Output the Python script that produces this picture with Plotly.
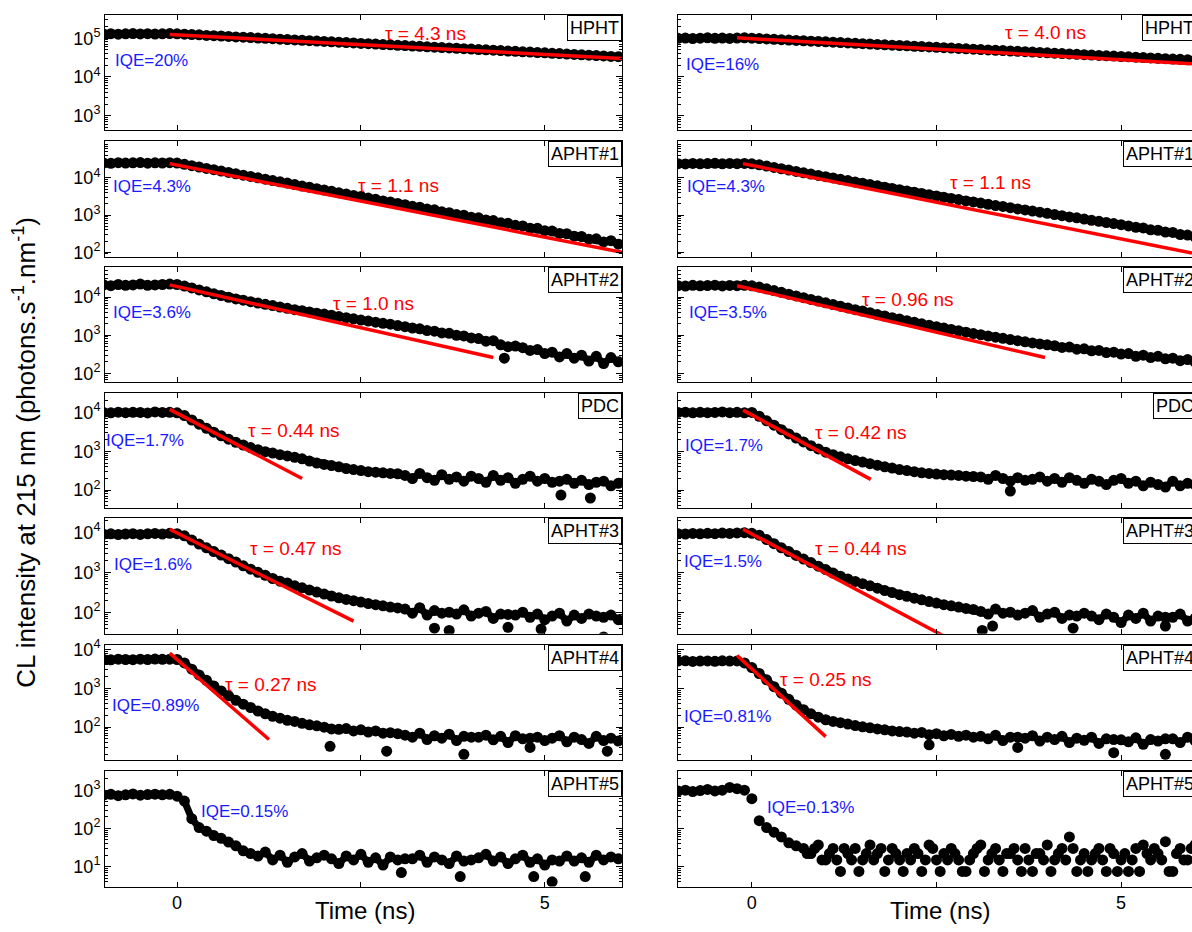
import math
import plotly.graph_objects as go

W, H = 1192, 932

# ---------------- data ----------------
TIME_NS = [-1.0, -0.9, -0.8, -0.7, -0.6, -0.5, -0.4, -0.3, -0.2, -0.1, 0.0,
           0.1, 0.2, 0.3, 0.4, 0.5, 0.6, 0.7, 0.8, 0.9, 1.0,
           1.1, 1.2, 1.3, 1.4, 1.5, 1.6, 1.7, 1.8, 1.9, 2.0,
           2.1, 2.2, 2.3, 2.4, 2.5, 2.6, 2.7, 2.8, 2.9, 3.0,
           3.1, 3.2, 3.3, 3.4, 3.5, 3.6, 3.7, 3.8, 3.9, 4.0,
           4.1, 4.2, 4.3, 4.4, 4.5, 4.6, 4.7, 4.8, 4.9, 5.0,
           5.1, 5.2, 5.3, 5.4, 5.5, 5.6, 5.7, 5.8, 5.9, 6.0]

SAMPLES = ["HPHT", "APHT#1", "APHT#2", "PDC", "APHT#3", "APHT#4", "APHT#5"]
LEFT_IQE = ["IQE=20%", "IQE=4.3%", "IQE=3.6%", "IQE=1.7%", "IQE=1.6%", "IQE=0.89%", "IQE=0.15%"]
RIGHT_IQE = ["IQE=16%", "IQE=4.3%", "IQE=3.5%", "IQE=1.7%", "IQE=1.5%", "IQE=0.81%", "IQE=0.13%"]
LEFT_TAU = ["4.3", "1.1", "1.0", "0.44", "0.47", "0.27"]
RIGHT_TAU = ["4.0", "1.1", "0.96", "0.42", "0.44", "0.25"]

L_HPHT = [128000, 131000, 127000, 130000, 132000, 129000, 131000, 128000, 130000, 132000, 130000,
          127000, 124000, 122000, 118000, 116000, 114000, 111000, 108000, 106000, 104000,
          101000, 99000, 97000, 94500, 92500, 90500, 88000, 86500, 84500, 82500,
          80500, 79000, 77000, 75500, 73500, 72000, 70500, 68500, 67500, 65500,
          64500, 62500, 61500, 60000, 58500, 57500, 56000, 55000, 53500, 52500,
          51000, 50000, 49000, 48000, 46500, 45800, 44600, 43800, 42600, 41800,
          40700, 40000, 38900, 38200, 37100, 36500, 35500, 34900, 33900, 33400]
R_HPHT = [99000, 101000, 98000, 100000, 102000, 99500, 101000, 98500, 100500, 102000, 100000,
          97800, 95800, 93600, 91700, 89700, 87800, 85900, 84000, 82300, 80500,
          78700, 77100, 75400, 73800, 72200, 70600, 69100, 67600, 66200, 64800,
          63400, 62000, 60700, 59400, 58100, 56800, 55600, 54400, 53300, 52100,
          51000, 49900, 48800, 47800, 46700, 45700, 44800, 43800, 42900, 41900,
          41000, 40200, 39300, 38400, 37600, 36800, 36000, 35200, 34500, 33700,
          33000, 32300, 31600, 30900, 30300, 29600, 29000, 28400, 27700, 27200]
L_APHT1 = [25000, 24500, 25500, 24800, 25200, 25600, 24700, 25300, 25000, 25400, 24800,
           23000, 21200, 19500, 17900, 16500, 15200, 13900, 12800, 11800, 10900,
           10000, 9200, 8400, 7800, 7200, 6600, 6000, 5600, 5100, 4700,
           4350, 3950, 3700, 3350, 3150, 2850, 2650, 2400, 2250, 2050,
           1900, 1720, 1620, 1450, 1380, 1220, 1160, 1030, 990, 870,
           840, 740, 710, 620, 600, 530, 510, 445, 440, 380,
           370, 320, 315, 270, 265, 225, 230, 190, 205, 165]
R_APHT1 = [24000, 23600, 24400, 23800, 24200, 24500, 23700, 24300, 24000, 24400, 23800,
           22400, 20600, 19000, 17500, 16100, 14800, 13600, 12600, 11600, 10700,
           9900, 9100, 8400, 7700, 7100, 6600, 6100, 5600, 5200, 4800,
           4400, 4100, 3800, 3500, 3250, 3000, 2800, 2600, 2400, 2250,
           2100, 1950, 1800, 1700, 1580, 1460, 1370, 1280, 1190, 1110,
           1030, 960, 890, 840, 780, 720, 680, 630, 590, 550,
           510, 470, 450, 400, 390, 350, 340, 300, 290, 260]
L_APHT2 = [21000, 20000, 21500, 20500, 21000, 22000, 20500, 21000, 21500, 22000, 21500,
           19500, 17500, 15500, 13800, 12200, 11000, 9900, 9000, 8300, 7600,
           7000, 6500, 6000, 5500, 5100, 4700, 4400, 4100, 3800, 3600,
           3350, 3100, 2900, 2700, 2500, 2350, 2200, 2050, 1950, 1800,
           1680, 1550, 1470, 1330, 1280, 1150, 1120, 1000, 960, 850,
           820, 700, 720, 560, 500, 520, 470, 400, 420, 330,
           360, 270, 330, 250, 300, 210, 280, 180, 260, 200]
R_APHT2 = [20000, 19500, 20500, 19800, 20200, 20600, 19700, 20300, 20000, 20400, 19800,
           18400, 16600, 14900, 13400, 12000, 10800, 9700, 8700, 7900, 7100,
           6400, 5800, 5200, 4700, 4300, 3900, 3500, 3200, 2900, 2650,
           2400, 2200, 2000, 1830, 1680, 1540, 1420, 1310, 1200, 1110,
           1030, 950, 890, 830, 770, 720, 670, 630, 590, 560,
           530, 480, 490, 430, 440, 390, 400, 350, 360, 320,
           330, 280, 300, 260, 280, 240, 250, 215, 230, 200]
L_PDC = [10000, 9800, 10200, 9900, 10100, 10000, 9700, 10300, 10000, 10100, 9800,
         8300, 6400, 5000, 3900, 3100, 2500, 2050, 1700, 1450, 1250,
         1100, 980, 900, 820, 760, 700, 640, 560, 500, 460,
         430, 400, 360, 340, 320, 300, 290, 280, 270, 265,
         240, 200, 270, 210, 180, 250, 190, 220, 170, 230,
         200, 160, 240, 180, 210, 150, 190, 230, 170, 200,
         160, 170, 190, 150, 180, 140, 160, 170, 130, 150]
R_PDC = [10000, 10200, 9800, 10100, 9900, 10000, 10300, 9900, 10100, 9800, 10000,
         8000, 6100, 4700, 3600, 2800, 2200, 1750, 1400, 1150, 950,
         820, 720, 640, 580, 530, 480, 440, 400, 370, 340,
         320, 300, 280, 270, 260, 250, 245, 240, 230, 225,
         220, 190, 240, 200, 170, 210, 180, 190, 220, 170,
         200, 160, 210, 180, 150, 190, 170, 140, 180, 200,
         150, 170, 130, 160, 140, 120, 170, 130, 150, 140]
L_APHT3 = [9000, 9200, 8800, 9100, 9300, 8900, 9200, 9400, 9100, 9500, 9300,
           8200, 6400, 5100, 4100, 3300, 2700, 2200, 1800, 1450, 1200,
           1000, 840, 700, 600, 540, 460, 410, 360, 320, 285,
           255, 230, 210, 195, 180, 165, 155, 145, 135, 128,
           120, 95, 130, 85, 110, 95, 100, 90, 115, 80,
           95, 105, 70, 90, 88, 85, 100, 75, 90, 65,
           80, 95, 60, 85, 70, 90, 80, 75, 85, 65]
R_APHT3 = [9300, 9100, 9400, 9200, 9500, 9300, 9600, 9400, 9700, 9800, 9500,
           8500, 6600, 5200, 4100, 3300, 2650, 2150, 1750, 1420, 1170,
           960, 800, 680, 590, 520, 460, 400, 350, 310, 275,
           250, 225, 205, 185, 170, 155, 145, 135, 125, 118,
           105, 90, 120, 95, 100, 85, 95, 110, 75, 90,
           100, 70, 85, 80, 95, 80, 65, 90, 75, 55,
           85, 70, 95, 60, 80, 75, 75, 90, 60, 70]
L_APHT4 = [5500, 5400, 5600, 5500, 5450, 5600, 5500, 5650, 5550, 5600, 5500,
           4500, 3100, 2200, 1600, 1150, 850, 640, 490, 390, 320,
           260, 220, 190, 170, 150, 140, 125, 115, 108, 100,
           90, 88, 92, 80, 85, 75, 80, 70, 72, 68,
           62, 55, 70, 48, 60, 52, 66, 45, 58, 55,
           55, 62, 47, 58, 40, 60, 50, 52, 55, 45,
           52, 60, 42, 55, 48, 38, 58, 45, 52, 44]
R_APHT4 = [5000, 5100, 4900, 5000, 5050, 4950, 5100, 5000, 5050, 4500, 3400,
           2400, 1650, 1100, 750, 520, 370, 280, 220, 180, 155,
           140, 130, 120, 110, 102, 96, 90, 85, 80, 77,
           75, 70, 73, 64, 68, 60, 65, 58, 62, 55,
           58, 50, 62, 45, 55, 55, 52, 60, 44, 55,
           48, 58, 40, 52, 46, 55, 38, 50, 48, 47,
           42, 53, 36, 48, 44, 50, 50, 40, 55, 45]
L_APHT5 = [750, 780, 720, 760, 800, 740, 770, 790, 760, 780, 700,
           520, 180, 105, 85, 65, 55, 44, 35, 26, 22,
           19, 24, 15, 20, 13, 18, 22, 14, 17, 20,
           16, 12, 19, 15, 21, 13, 17, 11, 18, 15,
           16, 16, 20, 13, 18, 15, 12, 19, 14, 15,
           17, 21, 14, 18, 12, 16, 20, 13, 16, 11,
           15, 14, 19, 14, 17, 13, 20, 15, 18, 16]
R_APHT5 = [950, 1000, 920, 980, 1050, 960, 1000, 1180, 1100, 1000, 600,
           160, 105, 80, 60, 42, 35, 30, 22, 37, 15,
           30, 7.5, 22, 30, 15, 37, 22, 7.5, 30, 15,
           22, 30, 7.5, 37, 15, 22, 30, 15, 7.5, 22,
           37, 15, 30, 7.5, 22, 15, 30, 7.5, 22, 37,
           15, 30, 60, 7.5, 22, 15, 30, 7.5, 22, 15,
           7.5, 30, 37, 15, 22, 45, 7.5, 30, 15, 37]

# extra interleaved tail samples for the right APHT#5 panel (quantised counts)
R_APHT5_EXTRA_T = [0.75, 0.85, 0.95, 1.05, 1.15, 1.25, 1.35, 1.45, 1.55, 1.65,
                   1.75, 1.85, 1.95, 2.05, 2.15, 2.25, 2.35, 2.45, 2.55, 2.65,
                   2.75, 2.85, 2.95, 3.05, 3.15, 3.25, 3.35, 3.45, 3.55, 3.65,
                   3.75, 3.85, 3.95, 4.05, 4.15, 4.25, 4.35, 4.45, 4.55, 4.65,
                   4.75, 4.85, 4.95, 5.05, 5.15, 5.25, 5.35, 5.45, 5.55, 5.65,
                   5.75, 5.85, 5.95]
R_APHT5_EXTRA_I = [22, 30, 15, 22, 15, 30, 15, 7.5, 22, 15,
                   30, 15, 22, 7.5, 15, 22, 15, 30, 7.5, 15,
                   22, 7.5, 15, 30, 7.5, 22, 15, 22, 30, 7.5,
                   15, 22, 15, 7.5, 22, 15, 30, 15, 7.5, 22,
                   15, 30, 7.5, 22, 15, 7.5, 22, 30, 15, 7.5,
                   22, 15, 30]

# isolated low points lying under the bands: (time, intensity) per panel
LEFT_OUT_T = [[], [], [4.45], [5.22, 5.62], [3.5, 3.7, 4.5, 4.95, 5.8], [2.08, 2.85, 3.9, 4.8, 5.85],
              [3.05, 3.85, 4.85, 5.1, 5.55]]
LEFT_OUT_I = [[], [], [250], [75, 63], [40, 35, 42, 38, 24], [32, 24, 20, 30, 24],
              [7, 5.5, 5.5, 4, 5.5]]
RIGHT_OUT_T = [[], [], [], [3.5], [3.12, 3.26, 4.35, 5.6], [2.4, 3.6, 4.9, 5.6], []]
RIGHT_OUT_I = [[], [], [], [95], [35, 45, 40, 45], [35, 30, 22, 20], []]

LEFT_SERIES = [L_HPHT, L_APHT1, L_APHT2, L_PDC, L_APHT3, L_APHT4, L_APHT5]
RIGHT_SERIES = [R_HPHT, R_APHT1, R_APHT2, R_PDC, R_APHT3, R_APHT4, R_APHT5]

# mono-exponential fits: (start time, end time) and (start intensity, end intensity)
LEFT_FIT_T = [[-0.1, 6.05], [-0.1, 6.05], [-0.1, 4.3], [-0.1, 1.7], [-0.1, 2.4], [-0.1, 1.25]]
LEFT_FIT_I = [[125000, 30000], [24000, 100], [21000, 260], [12000, 200], [12000, 60], [8000, 48]]
RIGHT_FIT_T = [[-0.2, 5.96], [-0.12, 5.96], [-0.2, 3.97], [-0.12, 1.61], [-0.12, 2.75], [-0.2, 1.0]]
RIGHT_FIT_I = [[102000, 22000], [24000, 95], [20000, 260], [11500, 190], [12000, 18], [7000, 57]]

# ---------------- layout geometry (pixels in the target picture) ----------------
ROW_TOPS = [12, 139, 265, 392, 518, 645, 772]
PANEL_H = 116
COL_X = [(105, 622), (678, 1192)]
X_RANGES = [[-0.98, 6.05], [-1.0, 5.96]]
Y_RANGES = [[2.62, 5.6], [1.88, 4.98], [1.77, 4.8], [1.53, 4.5], [1.46, 4.35], [1.15, 4.12], [0.48, 3.5]]

IQE_POS = [[(113, 58), (684, 62)], [(111, 184), (685, 184)], [(111, 311), (687, 311)],
           [(104, 440), (683, 445)], [(112, 564), (682, 561)], [(110, 706), (682, 717)],
           [(199, 813), (765, 809)]]
TAU_POS = [[(383, 31), (1003, 30)], [(356, 183), (948, 180)], [(331, 302), (860, 298)],
           [(246, 430), (813, 432)], [(248, 548), (813, 548)], [(223, 685), (778, 680)]]

FONT = "Arial, Liberation Sans, sans-serif"
BLUE = "#1a1aff"
RED = "#ff0000"

Y_OFF, Y_SCALE = 5.0, 0.99


def px(x):
    return x / W


def py(y):
    return 1 - ((y - Y_OFF) / Y_SCALE) / H


def decade_ticks(lo, hi):
    major, minor = [], []
    for d in range(int(lo) - 1, int(hi) + 2):
        major.append(10.0 ** d)
        for m in range(2, 10):
            minor.append(m * 10.0 ** d)
    return major, minor


def sup_label(v):
    return "10<sup>%d</sup>" % int(round(math.log10(v)))


fig = go.Figure()
layout = dict(width=W, height=H, margin=dict(l=0, r=0, t=0, b=0),
              paper_bgcolor="white", plot_bgcolor="white", showlegend=False,
              font=dict(family=FONT, color="black", size=17))
annotations = []
DOT = dict(color="black", size=11, line=dict(width=0))

for r in range(7):
    for c in range(2):
        k = r * 2 + c + 1
        sfx = "" if k == 1 else str(k)
        xa, ya = "x" + sfx, "y" + sfx
        x0, x1 = COL_X[c]
        top = ROW_TOPS[r]
        bot = top + PANEL_H
        major, minor = decade_ticks(*Y_RANGES[r])
        layout["xaxis" + sfx] = dict(
            domain=[px(x0), px(x1)], range=X_RANGES[c], anchor=ya,
            showline=True, linecolor="black", linewidth=1, mirror="allticks",
            ticks="inside", ticklen=5, tickcolor="black",
            tickmode="array", tickvals=[0, 5], ticktext=["0", "5"],
            minor=dict(tickmode="array", tickvals=[2.5], ticks="inside", ticklen=5,
                       tickcolor="black", showgrid=False),
            showticklabels=(r == 6), showgrid=False, zeroline=False,
            tickfont=dict(size=18, family=FONT))
        layout["yaxis" + sfx] = dict(
            domain=[py(bot), py(top)], range=Y_RANGES[r], type="log", anchor=xa,
            showline=True, linecolor="black", linewidth=1,
            mirror=("allticks" if c == 0 else False),
            ticks="inside", ticklen=6, tickcolor="black",
            tickmode="array", tickvals=major, ticktext=[sup_label(v) for v in major],
            minor=dict(tickmode="array", tickvals=minor, ticks="inside", ticklen=3,
                       tickcolor="black", showgrid=False),
            showticklabels=(c == 0), showgrid=False, zeroline=False,
            tickfont=dict(size=18, family=FONT))

        series = LEFT_SERIES[r] if c == 0 else RIGHT_SERIES[r]
        dense = not (r == 6 and c == 1)
        fig.add_trace(go.Scatter(
            x=TIME_NS, y=series, mode="lines+markers" if dense else "markers",
            xaxis=xa, yaxis=ya, line=dict(color="black", width=7), marker=DOT))
        ot = LEFT_OUT_T[r] if c == 0 else RIGHT_OUT_T[r]
        oi = LEFT_OUT_I[r] if c == 0 else RIGHT_OUT_I[r]
        if ot:
            fig.add_trace(go.Scatter(x=ot, y=oi, mode="markers", xaxis=xa, yaxis=ya, marker=DOT))
        if r == 6 and c == 1:
            fig.add_trace(go.Scatter(x=R_APHT5_EXTRA_T, y=R_APHT5_EXTRA_I, mode="markers",
                                     xaxis=xa, yaxis=ya, marker=DOT))
        if r < 6:
            ft = LEFT_FIT_T[r] if c == 0 else RIGHT_FIT_T[r]
            fi = LEFT_FIT_I[r] if c == 0 else RIGHT_FIT_I[r]
            fig.add_trace(go.Scatter(x=ft, y=fi, mode="lines", xaxis=xa, yaxis=ya,
                                     line=dict(color=RED, width=3.5)))

        annotations.append(dict(
            text=SAMPLES[r], xref="paper", yref="paper",
            x=px(x1 if c == 0 else 1197), y=py(top), xanchor="right", yanchor="top",
            showarrow=False, bordercolor="black", borderwidth=1, borderpad=2,
            bgcolor="white", font=dict(size=18, family=FONT, color="black")))
        ix, iy = IQE_POS[r][c]
        annotations.append(dict(
            text=(LEFT_IQE if c == 0 else RIGHT_IQE)[r], xref="paper", yref="paper",
            x=px(ix), y=py(iy), xanchor="left", yanchor="middle", showarrow=False,
            font=dict(size=17, family=FONT, color=BLUE)))
        if r < 6:
            tx, ty = TAU_POS[r][c]
            tau = (LEFT_TAU if c == 0 else RIGHT_TAU)[r]
            annotations.append(dict(
                text="τ = " + tau + " ns", xref="paper", yref="paper",
                x=px(tx), y=py(ty), xanchor="left", yanchor="middle", showarrow=False,
                font=dict(size=19, family=FONT, color=RED)))

for cx in (365, 940):
    annotations.append(dict(text="Time (ns)", xref="paper", yref="paper",
                            x=px(cx), y=0.0, xanchor="center", yanchor="bottom",
                            showarrow=False, font=dict(size=24, family=FONT)))
annotations.append(dict(
    text="CL intensity at 215 nm (photons.s<sup>-1</sup>.nm<sup>-1</sup>)",
    xref="paper", yref="paper", x=px(25), y=py(452), xanchor="center", yanchor="middle",
    textangle=-90, showarrow=False, font=dict(size=26, family=FONT)))

layout["annotations"] = annotations
fig.update_layout(**layout)

fig.write_html("out.html", config={"displayModeBar": False},
               post_script="document.body.style.margin='0';document.body.style.overflow='hidden';")
